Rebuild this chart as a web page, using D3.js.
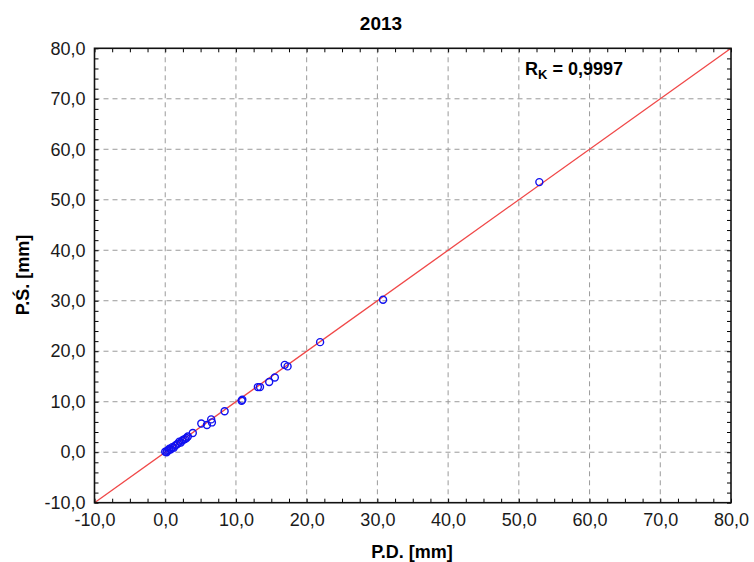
<!DOCTYPE html>
<html>
<head>
<meta charset="utf-8">
<script src="https://cdn.jsdelivr.net/npm/d3@7"></script>
<style>
  body { margin: 0; background: #fff; }
  svg { font-family: "Liberation Sans", Arial, sans-serif; }
  .tick text { font-size: 18px; fill: #1a1a1a; }
</style>
</head>
<body>
<svg width="754" height="562"></svg>
<script>
// P.D. values (x) and P.Ś. values (y), mm
const pd = [52.9, 30.8, 21.9, 16.9, 17.3, 15.5, 14.7, 13.1, 13.4, 10.9, 10.8, 8.4, 6.5, 6.6, 5.9, 5.1,
            3.9, 3.2, 3.0, 2.8, 2.6, 2.4, 2.2, 2.0, 1.8, 1.6, 1.4, 1.2, 1.0, 0.8, 0.6, 0.5, 0.3, 0.2, 0.0];
const ps = [53.5, 30.2, 21.8, 17.3, 17.0, 14.8, 13.9, 12.9, 12.9, 10.4, 10.2, 8.1, 6.5, 5.9, 5.4, 5.7,
            3.8, 3.1, 2.8, 2.6, 2.5, 2.3, 1.9, 2.1, 1.7, 1.5, 1.3, 0.9, 1.0, 0.6, 0.7, 0.4, 0.3, 0.0, 0.1];
const tickVals = [-10, 0, 10, 20, 30, 40, 50, 60, 70, 80];
const fitLine = [[-10, -10], [80, 80]];

const svg = d3.select('svg');
const pLeft = 94.5, pRight = 731, pTop = 48.3, pBottom = 502.7;

const x = d3.scaleLinear().domain([-10, 80]).range([pLeft, pRight]);
const y = d3.scaleLinear().domain([-10, 80]).range([pBottom, pTop]);
const fmt = (d) => d.toFixed(1).replace('.', ',');

// grid lines
const grid = svg.append('g').attr('stroke', '#9a9a9a').attr('stroke-dasharray', '5,4');
grid.selectAll('.gx').data(tickVals.slice(1, -1)).enter().append('line')
    .attr('x1', (d) => x(d)).attr('x2', (d) => x(d))
    .attr('y1', pTop).attr('y2', pBottom);
grid.selectAll('.gy').data(tickVals.slice(1, -1)).enter().append('line')
    .attr('y1', (d) => y(d)).attr('y2', (d) => y(d))
    .attr('x1', pLeft).attr('x2', pRight);

// regression line
svg.append('line')
    .attr('x1', x(fitLine[0][0])).attr('y1', y(fitLine[0][1]))
    .attr('x2', x(fitLine[1][0])).attr('y2', y(fitLine[1][1]))
    .attr('stroke', '#f04848').attr('stroke-width', 1.3);

// points
svg.append('g').selectAll('circle')
    .data(pd.map((d, i) => [d, ps[i]]))
    .enter().append('circle')
    .attr('cx', (d) => x(d[0])).attr('cy', (d) => y(d[1]))
    .attr('r', 3.5)
    .attr('fill', 'none').attr('stroke', '#1010f0').attr('stroke-width', 1.4);

// axes with labels
const xAx = svg.append('g').attr('transform', `translate(0,${pBottom})`)
    .call(d3.axisBottom(x).tickValues(tickVals).tickFormat(fmt).tickSize(0).tickPadding(11));
const yAx = svg.append('g').attr('transform', `translate(${pLeft},0)`)
    .call(d3.axisLeft(y).tickValues(tickVals).tickFormat(fmt).tickSize(0).tickPadding(9));
xAx.select('.domain').remove();
yAx.select('.domain').remove();

// minor ticks pointing inward
const minorX = d3.range(-10, 80.01, 2.5);
const minorY = d3.range(-10, 80.01, 2);
const tk = svg.append('g').attr('stroke', '#333').attr('stroke-width', 1);
tk.append('g').call(d3.axisBottom(x).tickValues(minorX).tickSize(-4).tickFormat(''))
    .attr('transform', `translate(0,${pBottom})`);
tk.append('g').call(d3.axisTop(x).tickValues(minorX).tickSize(-4).tickFormat(''))
    .attr('transform', `translate(0,${pTop})`);
tk.append('g').call(d3.axisLeft(y).tickValues(minorY).tickSize(-4).tickFormat(''))
    .attr('transform', `translate(${pLeft},0)`);
tk.append('g').call(d3.axisRight(y).tickValues(minorY).tickSize(-4).tickFormat(''))
    .attr('transform', `translate(${pRight},0)`);
tk.selectAll('.domain').remove();

// frame
svg.append('rect')
    .attr('x', pLeft).attr('y', pTop)
    .attr('width', pRight - pLeft).attr('height', pBottom - pTop)
    .attr('fill', 'none').attr('stroke', '#111').attr('stroke-width', 1.6);

// text
svg.append('text')
    .attr('x', 381).attr('y', 30)
    .attr('text-anchor', 'middle')
    .attr('font-weight', 'bold').attr('font-size', 19)
    .text('2013');

svg.append('text')
    .attr('x', 412).attr('y', 558)
    .attr('text-anchor', 'middle')
    .attr('font-weight', 'bold').attr('font-size', 18)
    .text('P.D. [mm]');

svg.append('text')
    .attr('transform', 'translate(29,275) rotate(-90)')
    .attr('text-anchor', 'middle')
    .attr('font-weight', 'bold').attr('font-size', 18)
    .text('P.Ś. [mm]');

const rk = svg.append('text')
    .attr('x', 525).attr('y', 75)
    .attr('font-weight', 'bold').attr('font-size', 18);
rk.append('tspan').text('R');
rk.append('tspan').attr('dy', 4).attr('font-size', 13).text('K');
rk.append('tspan').attr('dy', -4).text(' = 0,9997');
</script>
</body>
</html>
